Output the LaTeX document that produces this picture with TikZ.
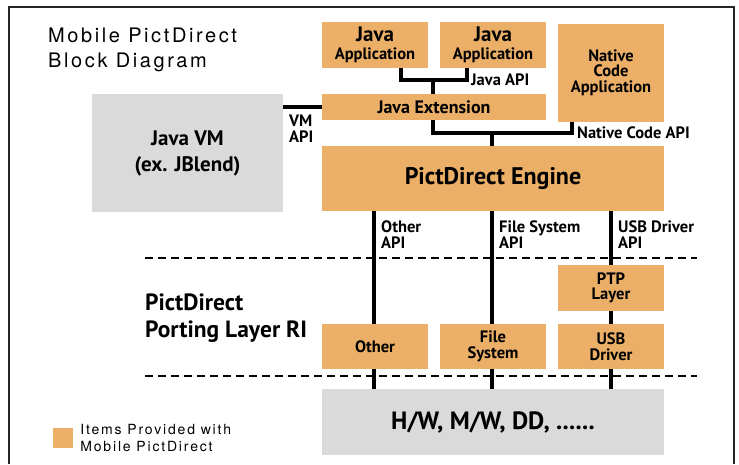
\documentclass[tikz,border=0pt]{standalone}
\usepackage{fontspec}
\setmainfont{PT Sans}
\newfontfamily\captionfont[LetterSpace=13]{TeX Gyre Heros}
\usepackage{tikz}
\usetikzlibrary{positioning, backgrounds}
\definecolor{colorProvided}{HTML}{EBAF68}
\definecolor{colorOther}{HTML}{DADADA}
\tikzset{
  box/.style={inner sep=0pt, align=center, font=\bfseries\fontsize{16.5}{15.5}\selectfont},
  provided/.style={box, fill=colorProvided},
  other/.style={box, fill=colorOther, font=\bfseries\fontsize{21}{26}\selectfont},
  api/.style={line width=3.2pt},
  apilabel/.style={inner sep=0pt, align=left, font=\bfseries\fontsize{16.5}{16}\selectfont},
  layer/.style={line width=1.6pt, dash pattern=on 8pt off 5pt},
}

\begin{document}
\begin{tikzpicture}[x=1pt, y=-1pt]
\useasboundingbox (0,0) rectangle (739,464);
\draw[line width=1.6pt, black!85] (9,464) |- (734,7) -- (734,464);

% titles
\node[anchor=base west, inner sep=0pt, align=left, font=\captionfont\fontsize{20}{25}\selectfont] (title) at (48,67) {Mobile PictDirect\\Block Diagram};
\node[anchor=base west, inner sep=0pt, align=left, font=\bfseries\fontsize{23.5}{27}\selectfont] (porting) at (145,337) {PictDirect\\Porting Layer RI};

% blocks
\node[provided, minimum width=106, minimum height=46] (app1) at (375,45) {{\fontsize{21}{17}\selectfont Java}\\[2pt]Application};
\node[provided, minimum width=106, minimum height=46] (app2) at (493,45) {{\fontsize{21}{17}\selectfont Java}\\[2pt]Application};
\node[provided, minimum width=106, minimum height=98] (native) at (611,72.5) {Native\\Code\\Application};
\node[provided, minimum width=224, minimum height=26, font=\bfseries\fontsize{18}{18}\selectfont] (jext) at (434,107) {Java Extension};
\node[provided, minimum width=342, minimum height=65, font=\bfseries\fontsize{24}{26}\selectfont] (engine) at (493,178.5) {PictDirect Engine};
\node[other, minimum width=191, minimum height=118] (jvm) at (187.5,153) {Java VM\\(ex. JBlend)};
\node[provided, minimum width=106, minimum height=46] (ptp) at (611,288) {PTP\\Layer};
\node[provided, minimum width=106, minimum height=45] (oth) at (375,346.5) {Other};
\node[provided, minimum width=106, minimum height=45] (fs) at (493,346.5) {File\\System};
\node[provided, minimum width=106, minimum height=45] (usb) at (611,346.5) {USB\\Driver};
\node[other, minimum width=342, minimum height=66, font=\bfseries\fontsize{25}{26}\selectfont] (hw) at (493,422) {H/W, M/W, DD, ......};

% connectors
\coordinate (jaj) at (433,80);
\coordinate (ncj) at (492,133);
\begin{scope}[on background layer]
\draw[api] ([xshift=26pt]app1.south) |- ([xshift=-26pt]app2.south |- jaj) -- ([xshift=-26pt]app2.south);
\draw[api] (jaj) -- (jaj |- jext.north);
\draw[api] (jext.south -| jaj) |- ([xshift=-39pt]native.south |- ncj) -- ([xshift=-39pt]native.south);
\draw[api] (ncj) -- (ncj |- engine.north);
\draw[api] (jvm.east |- jext.west) -- (jext.west);
\draw[api] ([xshift=-119pt]engine.south) -- ([xshift=-119pt]engine.south |- hw.north);
\draw[api] ([xshift=-1pt]engine.south) -- ([xshift=-1pt]engine.south |- hw.north);
\draw[api] ([xshift=118pt]engine.south) -- ([xshift=118pt]engine.south |- hw.north);
\end{scope}

% layer borders
\draw[layer] (145,258) -- (697,258);
\draw[layer] (145,376) -- (697,376);

% api labels
\node[apilabel, anchor=west] (javaapi) at (471,80) {Java API};
\node[apilabel, anchor=west] (nativeapi) at (577,133) {Native Code API};
\node[apilabel, anchor=north west] (vmapi) at (289,115) {VM\\API};
\node[apilabel, anchor=north west] (otherapi) at (381,221) {Other\\API};
\node[apilabel, anchor=north west] (fsapi) at (499,221) {File System\\API};
\node[apilabel, anchor=north west] (usbapi) at (618,221) {USB Driver\\API};

% legend
\node[fill=colorProvided, minimum size=20, inner sep=0pt] (key) at (63,438) {};
\node[right=7pt of key, inner sep=0pt, align=left, font=\captionfont\fontsize{14}{17}\selectfont] (keytext) {Items Provided with\\Mobile PictDirect};
\end{tikzpicture}
\end{document}
